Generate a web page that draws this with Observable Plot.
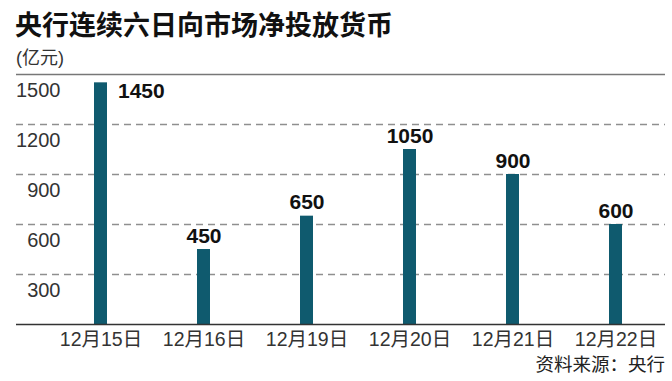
<!DOCTYPE html>
<html><head><meta charset="utf-8">
<script src="https://cdn.jsdelivr.net/npm/d3@7"></script>
<script src="https://cdn.jsdelivr.net/npm/@observablehq/plot@0.6"></script>
<style>
body{margin:0;background:#fff;font-family:"Liberation Sans","Noto Sans CJK SC",sans-serif;}
#wrap{position:relative;width:672px;height:381px;overflow:hidden;background:#fff}
#title{position:absolute;left:15px;top:8px;font:700 27px/32px "Noto Sans CJK SC",sans-serif;color:#111;white-space:nowrap}
#sub{position:absolute;left:16px;top:47px;font:400 18px/22px "Liberation Sans","Noto Sans CJK SC",sans-serif;color:#333;white-space:nowrap}
#chart{position:absolute;left:0;top:64px}
#src{position:absolute;right:7px;top:352px;font:400 18.5px/22px "Noto Sans CJK SC",sans-serif;color:#222;white-space:nowrap}
</style></head><body>
<div id="wrap">
  <div id="title"></div>
  <div id="sub"></div>
  <div id="chart"></div>
  <div id="src"></div>
</div>
<script>
const titleText = "央行连续六日向市场净投放货币";
const unitText = "(亿元)";
const sourceText = "资料来源：央行";
const dates = ["12月15日","12月16日","12月19日","12月20日","12月21日","12月22日"];
const values = [1450,450,650,1050,900,600];
const yTicks = [300,600,900,1200,1500];

const data = dates.map((d,i)=>({date:d, value:values[i]}));
document.getElementById("title").textContent = titleText;
document.getElementById("sub").textContent = unitText;
document.getElementById("src").textContent = sourceText;

const yMax = d3.max(yTicks);
const chart = Plot.plot({
  width: 672, height: 290,
  marginTop: 10, marginBottom: 30, marginLeft: 16, marginRight: 7,
  style: {fontFamily: '"Liberation Sans","Noto Sans CJK SC",sans-serif', background: "transparent", overflow: "visible"},
  x: {domain: dates, paddingInner: 0.87, paddingOuter: 0.561, align: 0.646, label: null},
  y: {domain: [0, yMax], label: null},
  marks: [
    Plot.ruleY(yTicks.filter(t => t < yMax), {stroke: "#8f8f8f", strokeWidth: 1.3, strokeDasharray: "7,5"}),
    Plot.ruleY([yMax], {stroke: "#777", strokeWidth: 1.5}),
    Plot.barY(data, {x: "date", y: "value", fill: "#0f5a6e"}),
    Plot.ruleY([0], {stroke: "#333", strokeWidth: 1.5}),
    Plot.axisY(yTicks, {tickSize: 0, tickPadding: -44, dy: 16, fontSize: 20, color: "#333", label: null, tickFormat: d => String(d)}),
    Plot.axisX({tickSize: 0, tickPadding: 8, fontSize: 19.5, color: "#333", label: null}),
    Plot.text(data.slice(1), {x: "date", y: "value", text: d => String(d.value), lineAnchor: "bottom", dy: -7, fontWeight: "bold", fontSize: 21, fill: "#111"}),
    Plot.text(data.slice(0,1), {x: "date", y: "value", text: d => String(d.value), textAnchor: "start", lineAnchor: "middle", dx: 17, dy: 8, fontWeight: "bold", fontSize: 21, fill: "#111"})
  ]
});
document.getElementById("chart").appendChild(chart);
</script>
</body></html>
